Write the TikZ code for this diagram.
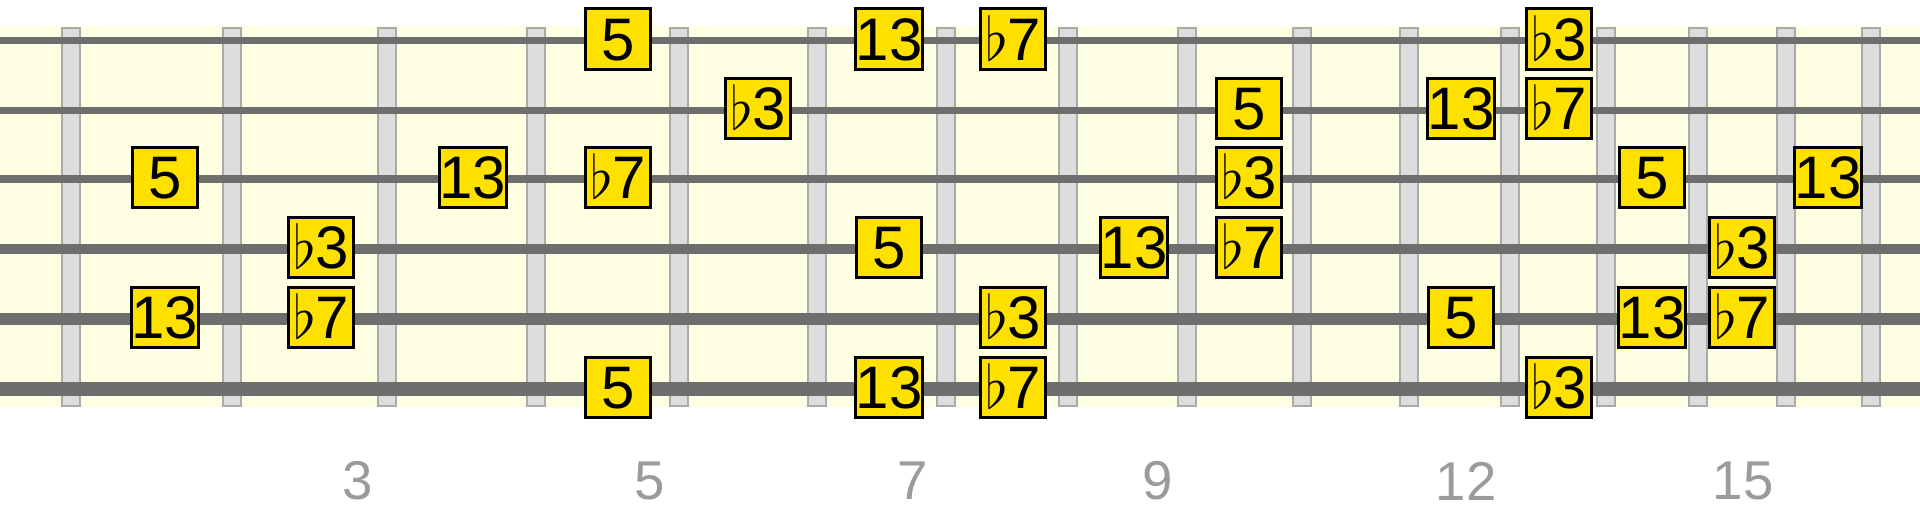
\RequirePackage{fix-cm}
\documentclass[tikz,border=0pt]{standalone}
\usepackage{fontspec}
\setmainfont{Liberation Sans}
\definecolor{boardbg}{HTML}{FFFFE3}
\definecolor{fretfill}{HTML}{DDDDDD}
\definecolor{fretline}{HTML}{AAAAAA}
\definecolor{stringcol}{HTML}{6E6E6E}
\definecolor{notefill}{HTML}{FFE100}
\definecolor{labelgray}{HTML}{9B9B9B}
\tikzset{
  fretbar/.style={fill=fretfill,draw=fretline,line width=1.5pt},
  guitarstring/.style={draw=stringcol},
  notebox/.style={draw=black,fill=notefill,line width=2.1pt,rectangle,inner sep=0pt,
    minimum width=48.2pt,minimum height=45.2pt,text height=32pt,text depth=0pt,
    font=\fontsize{45}{54}\selectfont},
  fretlabel/.style={text=labelgray,inner sep=0pt,font=\fontsize{41}{49}\selectfont}
}
\newcommand{\fl}{$\flat$\kern-1pt}
\begin{document}
\begin{tikzpicture}[x=0.75pt,y=-0.75pt]
\useasboundingbox (0,0) rectangle (1920,511);
\fill[boardbg] (0,26) rectangle (1920,407);
\foreach \x in {71,232,387,536,679,817,946,1068,1187,1302,1409,1510,1606,1698,1786,1871}
  \draw[fretbar] (\x-9,27.5) rectangle (\x+9,406);
\foreach \y/\w in {40.5/4.7,110/5.25,179/6,249/7.9,319/9.4,389/10.1}
  \draw[guitarstring,line width=\w pt] (0,\y) -- (1920,\y);
% string 1
\node[notebox] (a1) at (618,39) {5};
\node[notebox] (a2) at (889,39) {13};
\node[notebox] (a3) at (1013,39) {\fl7};
\node[notebox] (a4) at (1559,39) {\fl3};
% string 2
\node[notebox] (b1) at (758,108.5) {\fl3};
\node[notebox] (b2) at (1249,108.5) {5};
\node[notebox] (b3) at (1461,108.5) {13};
\node[notebox] (b4) at (1559,108.5) {\fl7};
% string 3
\node[notebox] (c1) at (165,177.5) {5};
\node[notebox] (c2) at (473,177.5) {13};
\node[notebox] (c3) at (618,177.5) {\fl7};
\node[notebox] (c4) at (1249,177.5) {\fl3};
\node[notebox] (c5) at (1652,177.5) {5};
\node[notebox] (c6) at (1828,177.5) {13};
% string 4
\node[notebox] (d1) at (321,247.5) {\fl3};
\node[notebox] (d2) at (889,247.5) {5};
\node[notebox] (d3) at (1134,247.5) {13};
\node[notebox] (d4) at (1249,247.5) {\fl7};
\node[notebox] (d5) at (1742,247.5) {\fl3};
% string 5
\node[notebox] (e1) at (165,317.5) {13};
\node[notebox] (e2) at (321,317.5) {\fl7};
\node[notebox] (e3) at (1013,317.5) {\fl3};
\node[notebox] (e4) at (1461,317.5) {5};
\node[notebox] (e5) at (1652,317.5) {13};
\node[notebox] (e6) at (1742,317.5) {\fl7};
% string 6
\node[notebox] (f1) at (618,387.5) {5};
\node[notebox] (f2) at (889,387.5) {13};
\node[notebox] (f3) at (1013,387.5) {\fl7};
\node[notebox] (f4) at (1559,387.5) {\fl3};
% fret numbers
\node[fretlabel] (l3) at (358,481) {3};
\node[fretlabel] (l5) at (650,481) {5};
\node[fretlabel] (l7) at (913,481) {7};
\node[fretlabel] (l9) at (1158,481) {9};
\node[fretlabel] (l12) at (1466,481) {12};
\node[fretlabel] (l15) at (1743,481) {15};
\end{tikzpicture}
\end{document}
